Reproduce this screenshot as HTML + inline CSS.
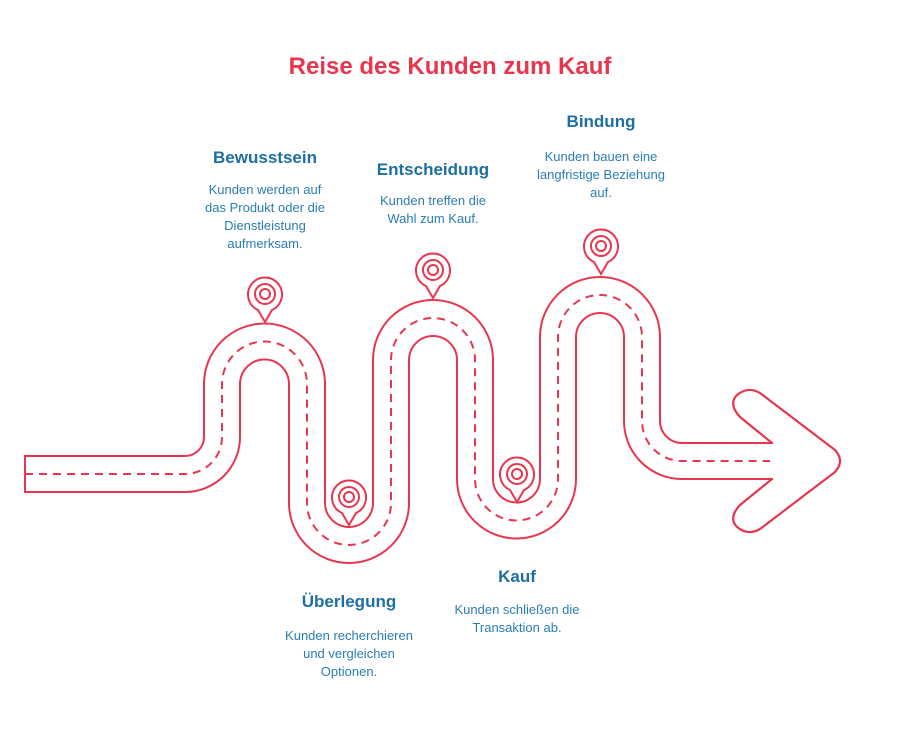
<!DOCTYPE html>
<html><head><meta charset="utf-8"><style>
body{margin:0;background:#fff;width:901px;height:732px;position:relative;overflow:hidden;font-family:"Liberation Sans",sans-serif}
.t{position:absolute;transform:translateX(-50%);text-align:center;white-space:nowrap}
.h{color:#1d6fa3;font-weight:bold;font-size:17px}
.b{color:#2a7db3;font-size:13px;line-height:18px}
</style></head><body>
<svg width="901" height="732" style="position:absolute;left:0;top:0">
<g fill="none" stroke-linejoin="round">
<path d="M772,443 L740,417 Q728,404 737,395 Q748,386 760,393 L835,450 Q845,461 835,472 L760,529 Q748,536 737,527 Q728,518 740,505 L772,479 Z" fill="#fff" stroke="#e8364f" stroke-width="2.2"/>
<path id="r" d="M25,474 H185 A37,37 0 0 0 222,437 V384 A42.5,42.5 0 0 1 307,384 V503 A42,42 0 0 0 391,503 V360 A42,42 0 0 1 475,360 V479 A41.5,41.5 0 0 0 558,479 V337 A42,42 0 0 1 642,337 V421 A40,40 0 0 0 682,461 H773" stroke="#e8364f" stroke-width="38"/>
<path d="M25,474 H185 A37,37 0 0 0 222,437 V384 A42.5,42.5 0 0 1 307,384 V503 A42,42 0 0 0 391,503 V360 A42,42 0 0 1 475,360 V479 A41.5,41.5 0 0 0 558,479 V337 A42,42 0 0 1 642,337 V421 A40,40 0 0 0 682,461 H774" stroke="#fff" stroke-width="34"/>
<path d="M25,474 H185 A37,37 0 0 0 222,437 V384 A42.5,42.5 0 0 1 307,384 V503 A42,42 0 0 0 391,503 V360 A42,42 0 0 1 475,360 V479 A41.5,41.5 0 0 0 558,479 V337 A42,42 0 0 1 642,337 V421 A40,40 0 0 0 682,461 H770" stroke="#e8364f" stroke-width="2" stroke-dasharray="8,6"/>
<line x1="25" y1="455" x2="25" y2="493" stroke="#e8364f" stroke-width="2"/>
</g>
<g fill="#fff" stroke="#e8364f" stroke-width="2">
<g transform="translate(265,294)"><path d="M-7,16 A17,17 0 1 1 7,16 L0,28 Z"/><circle r="10"/><circle r="5"/></g>
<g transform="translate(349,497)"><path d="M-7,16 A17,17 0 1 1 7,16 L0,28 Z"/><circle r="10"/><circle r="5"/></g>
<g transform="translate(433,270)"><path d="M-7,16 A17,17 0 1 1 7,16 L0,28 Z"/><circle r="10"/><circle r="5"/></g>
<g transform="translate(517,474)"><path d="M-7,16 A17,17 0 1 1 7,16 L0,28 Z"/><circle r="10"/><circle r="5"/></g>
<g transform="translate(601,246)"><path d="M-7,16 A17,17 0 1 1 7,16 L0,28 Z"/><circle r="10"/><circle r="5"/></g>
</g>
</svg>
<div class="t" style="left:450px;top:53px;color:#e8364f;font-weight:bold;font-size:24px">Reise des Kunden zum Kauf</div>
<div class="t h" style="left:265px;top:148px">Bewusstsein</div>
<div class="t b" style="left:265px;top:181px">Kunden werden auf<br>das Produkt oder die<br>Dienstleistung<br>aufmerksam.</div>
<div class="t h" style="left:433px;top:160px">Entscheidung</div>
<div class="t b" style="left:433px;top:192px">Kunden treffen die<br>Wahl zum Kauf.</div>
<div class="t h" style="left:601px;top:112px">Bindung</div>
<div class="t b" style="left:601px;top:148px">Kunden bauen eine<br>langfristige Beziehung<br>auf.</div>
<div class="t h" style="left:349px;top:592px">Überlegung</div>
<div class="t b" style="left:349px;top:627px">Kunden recherchieren<br>und vergleichen<br>Optionen.</div>
<div class="t h" style="left:517px;top:567px">Kauf</div>
<div class="t b" style="left:517px;top:601px">Kunden schließen die<br>Transaktion ab.</div>
</body></html>
